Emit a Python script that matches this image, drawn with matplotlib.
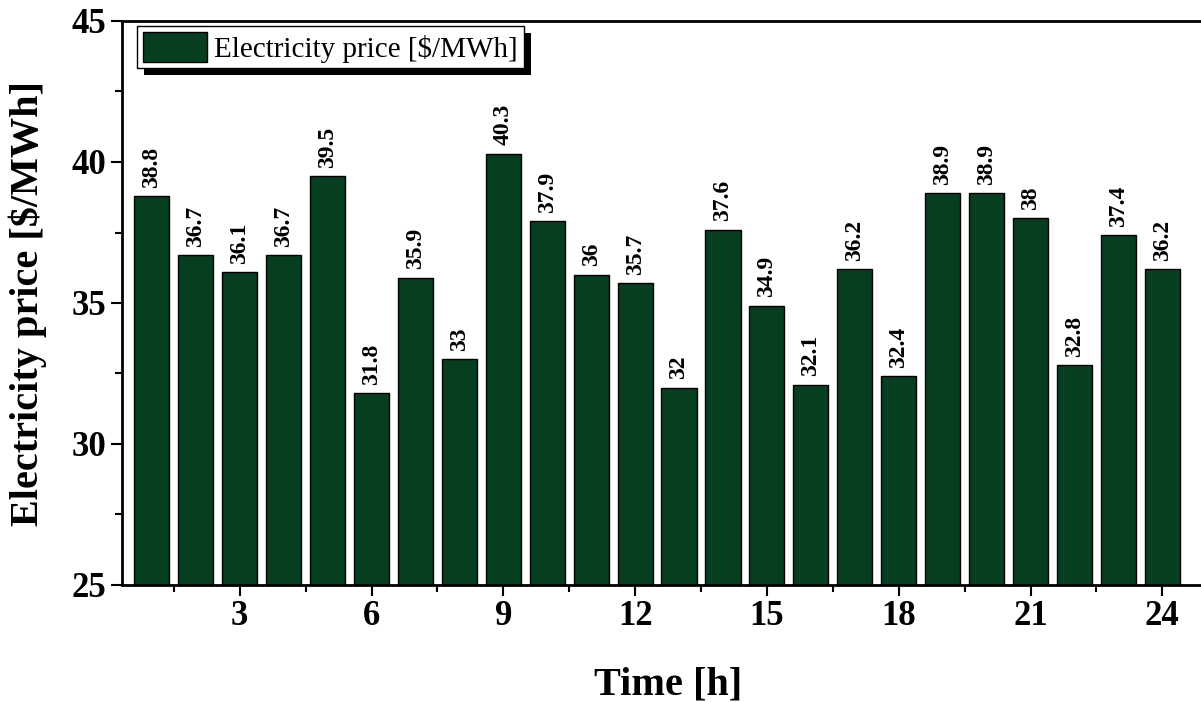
import numpy as np
import matplotlib
matplotlib.use("Agg")
import matplotlib.pyplot as plt
from matplotlib.patches import Rectangle
from matplotlib.transforms import IdentityTransform

hours = list(range(1, 25))
price = [38.8, 36.7, 36.1, 36.7, 39.5, 31.8, 35.9, 33, 40.3, 37.9, 36, 35.7,
         32, 37.6, 34.9, 32.1, 36.2, 32.4, 38.9, 38.9, 38, 32.8, 37.4, 36.2]
price_labels = ["38.8", "36.7", "36.1", "36.7", "39.5", "31.8", "35.9", "33",
                "40.3", "37.9", "36", "35.7", "32", "37.6", "34.9", "32.1",
                "36.2", "32.4", "38.9", "38.9", "38", "32.8", "37.4", "36.2"]
xticks = [3, 6, 9, 12, 15, 18, 21, 24]
yticks = [25, 30, 35, 40, 45]

plt.rcParams['font.family'] = ['Liberation Serif', 'DejaVu Serif']

W, H = 1201, 702
fig = plt.figure(figsize=(W / 100, H / 100), dpi=100)
# axes runs past the right edge of the figure, as in the reference
ax = fig.add_axes([122 / W, 117 / H, 1115 / W, 564 / H])

bars = ax.bar(hours, price, width=0.8, bottom=0, color='#063f20',
              edgecolor='black', linewidth=1.0, label='Electricity price [$/MWh]')
ax.bar_label(bars, labels=price_labels, rotation=90, padding=6,
             fontsize=17, fontweight='bold')

ax.set_xlim(0.32, 25.7)
ax.set_ylim(25, 45)
ax.set_xticks(xticks)
ax.set_xticks(np.arange(1.5, 25, 3), minor=True)
ax.set_yticks(yticks)
ax.set_yticks(np.arange(27.5, 45, 5), minor=True)

ax.tick_params(axis='both', which='major', direction='out', length=8, width=1.5,
               labelsize=25, pad=3)
ax.tick_params(axis='both', which='minor', direction='out', length=5, width=1.5)
for lab in ax.get_xticklabels() + ax.get_yticklabels():
    lab.set_fontweight('bold')

for s in ['left', 'bottom', 'top']:
    ax.spines[s].set_linewidth(2)
ax.spines['right'].set_visible(False)

ax.set_xlabel('Time [h]', fontsize=29, fontweight='bold', va='center')
ax.xaxis.set_label_coords((668 - 122) / 1115, -(685 - 585) / 564)
ax.set_ylabel('Electricity price [$/MWh]', fontsize=29, fontweight='bold',
              va='center')
ax.yaxis.set_label_coords(-(122 - 28) / 1115, (585 - 304) / 564)

leg = ax.legend(loc='upper left', bbox_to_anchor=(15 / 1115, 1 - 5 / 564),
                borderaxespad=0, fontsize=21, fancybox=False, frameon=True,
                edgecolor='black', framealpha=1, handlelength=2.2,
                handleheight=1.2, handletextpad=0.25, borderpad=0.2)
leg.get_frame().set_linewidth(1.0)
leg.set_zorder(6)

# solid black drop shadow behind the legend box
fig.canvas.draw()
bb = leg.get_window_extent()
shadow = Rectangle((bb.x0 + 7, bb.y0 - 7), bb.width, bb.height,
                   transform=IdentityTransform(), facecolor='black',
                   edgecolor='none', zorder=5.5, clip_on=False)
ax.add_artist(shadow)

fig.savefig('out.png', dpi=100)
